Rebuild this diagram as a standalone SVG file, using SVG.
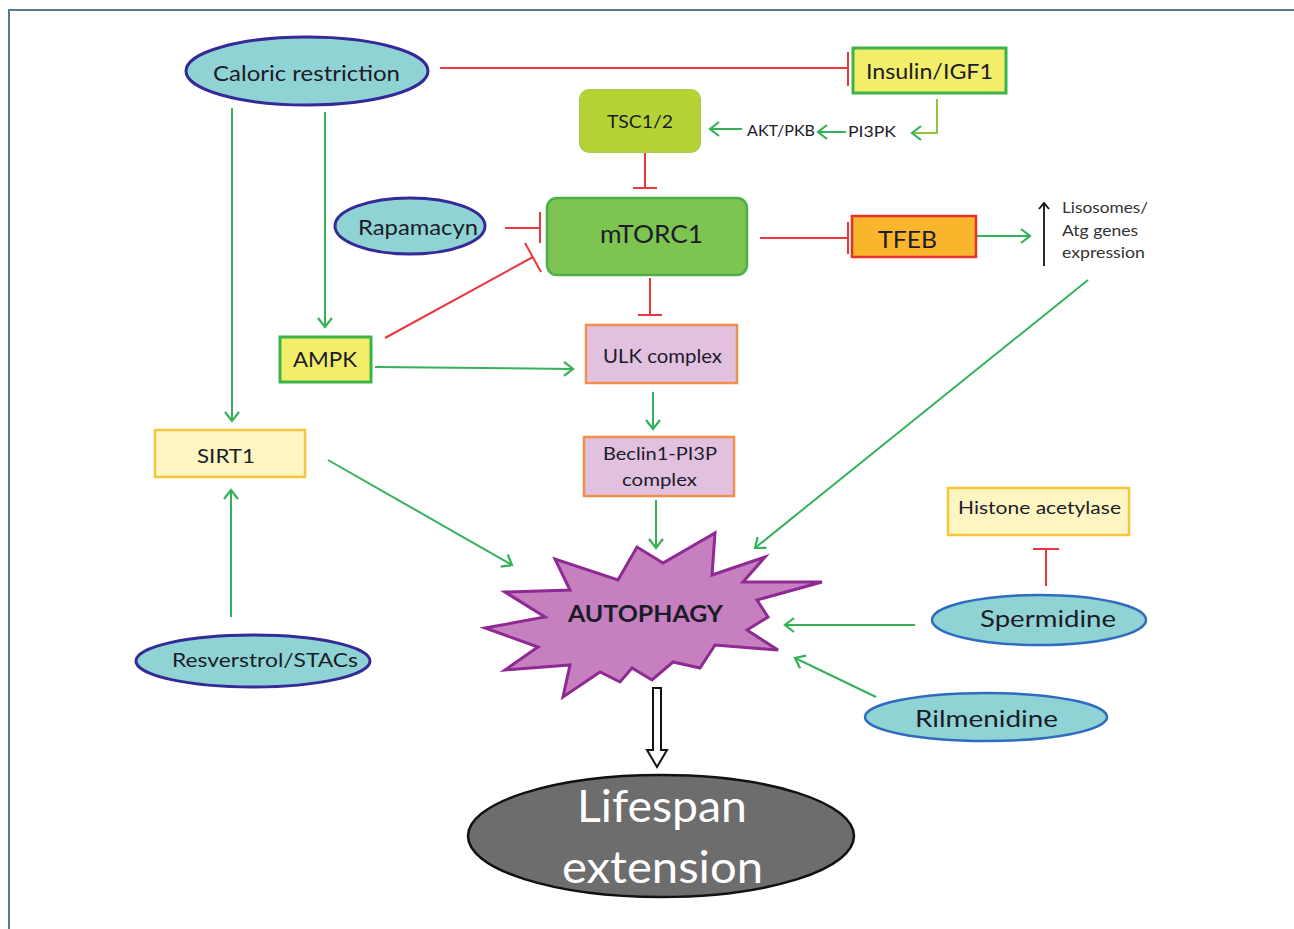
<svg xmlns="http://www.w3.org/2000/svg" width="1294" height="929" viewBox="0 0 1294 929">
<defs>
<style>
.t{font-family:Lato,"Open Sans","Liberation Sans",sans-serif;fill:#1c1c28}
.g{stroke:#35b15a;stroke-width:2;fill:none}
.gy{stroke:#8cc63f;stroke-width:2;fill:none}
.r{stroke:#e8383d;stroke-width:2;fill:none}
.oval{fill:#8fd3d4;stroke:#352a96;stroke-width:3}
.oval2{fill:#8fd3d4;stroke:#2f6cc0;stroke-width:2.5}
.yb{fill:#f2ee6a;stroke:#3cb44a;stroke-width:3}
.lb{fill:#fdf6c2;stroke:#f5c53a;stroke-width:2.5}
.pb{fill:#e2c0e0;stroke:#f0904a;stroke-width:2.5}
</style>
<marker id="ga" markerWidth="20" markerHeight="20" refX="16" refY="10" orient="auto" markerUnits="userSpaceOnUse">
<path d="M7,3 L16,10 L7,17" fill="none" stroke="#35b15a" stroke-width="2.2"/>
</marker>
<marker id="ka" markerWidth="16" markerHeight="16" refX="8" refY="2" orient="0" markerUnits="userSpaceOnUse">
<path d="M3,8 L8,2 L13,8" fill="none" stroke="#111" stroke-width="1.8"/>
</marker>
</defs>
<rect width="1294" height="929" fill="#ffffff"/>
<path d="M9,929 V10 H1294" fill="none" stroke="#5a7890" stroke-width="2"/>

<g id="connectors">
<!-- Caloric restriction -| Insulin -->
<path class="r" d="M440,68 H848 M848,52 V86"/>
<!-- Insulin -> PI3PK -> AKT -> TSC -->
<path class="gy" d="M937,99 V133 H912" marker-end="url(#ga)"/>
<path class="g" d="M846,132 H818" marker-end="url(#ga)"/>
<path class="g" d="M742,129 H710" marker-end="url(#ga)"/>
<!-- TSC -| mTORC1 -->
<path class="r" d="M645,152 V188 M633,188 H657"/>
<!-- Rapamycin -| mTORC1 -->
<path class="r" d="M505,228 H540 M540,212 V243"/>
<!-- AMPK -| mTORC1 -->
<path class="r" d="M385,338 L533,257 M525,243 L541,272"/>
<!-- mTORC1 -| TFEB -->
<path class="r" d="M760,238 H848 M848,222 V254"/>
<!-- TFEB -> lysosomes -->
<path class="g" d="M976,236 H1030" marker-end="url(#ga)"/>
<path d="M1044,266 V203" stroke="#111" stroke-width="1.8" fill="none" marker-end="url(#ka)"/>
<!-- mTORC1 -| ULK -->
<path class="r" d="M650,278 V315 M638,315 H662"/>
<!-- Caloric restriction -> SIRT1, AMPK -->
<path class="g" d="M232,108 V421" marker-end="url(#ga)"/>
<path class="g" d="M325,112 V327" marker-end="url(#ga)"/>
<!-- AMPK -> ULK -->
<path class="g" d="M375,367 L573,369" marker-end="url(#ga)"/>
<!-- ULK -> Beclin -->
<path class="g" d="M653,392 V429" marker-end="url(#ga)"/>
<!-- SIRT1 -> Autophagy -->
<path class="g" d="M328,460 L512,565" marker-end="url(#ga)"/>
<!-- Beclin -> Autophagy -->
<path class="g" d="M656,500 V548" marker-end="url(#ga)"/>
<!-- Lysosomes -> Autophagy -->
<path class="g" d="M1088,280 L755,548" marker-end="url(#ga)"/>
<!-- Resveratrol -> SIRT1 -->
<path class="g" d="M231,617 V490" marker-end="url(#ga)"/>
<!-- Spermidine -| Histone -->
<path class="r" d="M1046,586 V549 M1033,549 H1059"/>
<!-- Spermidine -> Autophagy -->
<path class="g" d="M915,625 H785" marker-end="url(#ga)"/>
<!-- Rilmenidine -> Autophagy -->
<path class="g" d="M876,697 L795,658" marker-end="url(#ga)"/>
<!-- Autophagy => Lifespan -->
<path d="M653,688 H661 V750 H667 L657,767 L647,750 H653 Z" fill="#ffffff" stroke="#111" stroke-width="2"/>
</g>

<g id="caloric">
<ellipse class="oval" cx="307" cy="71" rx="121" ry="34"/>
<text class="t" x="213" y="81" font-size="22" textLength="187" lengthAdjust="spacingAndGlyphs">Caloric restriction</text>
</g>
<g id="insulin">
<rect class="yb" x="853" y="48" width="153" height="45"/>
<text class="t" x="866" y="79" font-size="22" textLength="127" lengthAdjust="spacingAndGlyphs">Insulin/IGF1</text>
</g>
<g id="pi3pk"><text class="t" x="848" y="137" font-size="15" textLength="48" lengthAdjust="spacingAndGlyphs">PI3PK</text></g>
<g id="akt"><text class="t" x="747" y="136" font-size="15" textLength="68" lengthAdjust="spacingAndGlyphs">AKT/PKB</text></g>
<g id="tsc">
<rect x="580" y="90" width="120" height="62" rx="9" fill="#b5d334" stroke="#a9cf45" stroke-width="2"/>
<text class="t" x="607" y="128" font-size="17" textLength="66" lengthAdjust="spacingAndGlyphs">TSC1/2</text>
</g>
<g id="mtorc1">
<rect x="547" y="198" width="200" height="77" rx="10" fill="#7dc451" stroke="#4cb04a" stroke-width="2.5"/>
<text class="t" x="600" y="243" font-size="25" textLength="103" lengthAdjust="spacingAndGlyphs">mTORC1</text>
</g>
<g id="rapamycin">
<ellipse class="oval" cx="410" cy="226" rx="75" ry="28"/>
<text class="t" x="358" y="235" font-size="21" textLength="120" lengthAdjust="spacingAndGlyphs">Rapamacyn</text>
</g>
<g id="tfeb">
<rect x="852" y="216" width="124" height="41" fill="#f9b52b" stroke="#e8302a" stroke-width="2.5"/>
<text class="t" x="878" y="248" font-size="24" textLength="59" lengthAdjust="spacingAndGlyphs">TFEB</text>
</g>
<g id="lysosomes">
<text class="t" x="1062" y="213" font-size="15" fill="#333" style="fill:#333" textLength="86" lengthAdjust="spacingAndGlyphs">Lisosomes/</text>
<text class="t" x="1062" y="236" font-size="15" style="fill:#333" textLength="76" lengthAdjust="spacingAndGlyphs">Atg genes</text>
<text class="t" x="1062" y="258" font-size="15" style="fill:#333" textLength="83" lengthAdjust="spacingAndGlyphs">expression</text>
</g>
<g id="ampk">
<rect class="yb" x="280" y="337" width="91" height="45"/>
<text class="t" x="293" y="367" font-size="21" textLength="64" lengthAdjust="spacingAndGlyphs">AMPK</text>
</g>
<g id="ulk">
<rect class="pb" x="586" y="325" width="151" height="58"/>
<text class="t" x="603" y="363" font-size="19" textLength="119" lengthAdjust="spacingAndGlyphs">ULK complex</text>
</g>
<g id="beclin">
<rect class="pb" x="584" y="437" width="150" height="59"/>
<text class="t" x="603" y="460" font-size="18" textLength="114" lengthAdjust="spacingAndGlyphs">Beclin1-PI3P</text>
<text class="t" x="622" y="486" font-size="18" textLength="75" lengthAdjust="spacingAndGlyphs">complex</text>
</g>
<g id="sirt1">
<rect class="lb" x="155" y="430" width="150" height="47"/>
<text class="t" x="197" y="463" font-size="20" textLength="58" lengthAdjust="spacingAndGlyphs">SIRT1</text>
</g>
<g id="resveratrol">
<ellipse class="oval" cx="253" cy="661" rx="117" ry="26"/>
<text class="t" x="172" y="667" font-size="20" textLength="186" lengthAdjust="spacingAndGlyphs">Resverstrol/STACs</text>
</g>
<g id="autophagy">
<polygon points="485,628 545,617 505,592 570,590 555,559 618,580 637,547 663,563 715,533 712,575 765,557 743,582 822,582 757,600 768,617 747,630 778,650 715,645 700,668 673,662 652,680 632,668 620,682 600,672 563,697 570,665 505,670 538,647" fill="#c680c0" stroke="#8e2a91" stroke-width="3" stroke-linejoin="miter"/>
<text class="t" x="568" y="622" font-size="22" font-weight="bold" textLength="155" lengthAdjust="spacingAndGlyphs">AUTOPHAGY</text>
</g>
<g id="histone">
<rect class="lb" x="948" y="488" width="181" height="47"/>
<text class="t" x="958" y="514" font-size="18" textLength="163" lengthAdjust="spacingAndGlyphs">Histone acetylase</text>
</g>
<g id="spermidine">
<ellipse class="oval2" cx="1039" cy="620" rx="107" ry="25"/>
<text class="t" x="980" y="627" font-size="24" textLength="136" lengthAdjust="spacingAndGlyphs">Spermidine</text>
</g>
<g id="rilmenidine">
<ellipse class="oval2" cx="986" cy="717" rx="121" ry="24"/>
<text class="t" x="915" y="727" font-size="24" textLength="143" lengthAdjust="spacingAndGlyphs">Rilmenidine</text>
</g>
<g id="lifespan">
<ellipse cx="661" cy="836" rx="193" ry="61" fill="#6d6d6d" stroke="#111" stroke-width="2.5"/>
<text class="t" x="577" y="822" font-size="44" style="fill:#ffffff" textLength="170" lengthAdjust="spacingAndGlyphs">Lifespan</text>
<text class="t" x="562" y="883" font-size="44" style="fill:#ffffff" textLength="201" lengthAdjust="spacingAndGlyphs">extension</text>
</g>
</svg>
